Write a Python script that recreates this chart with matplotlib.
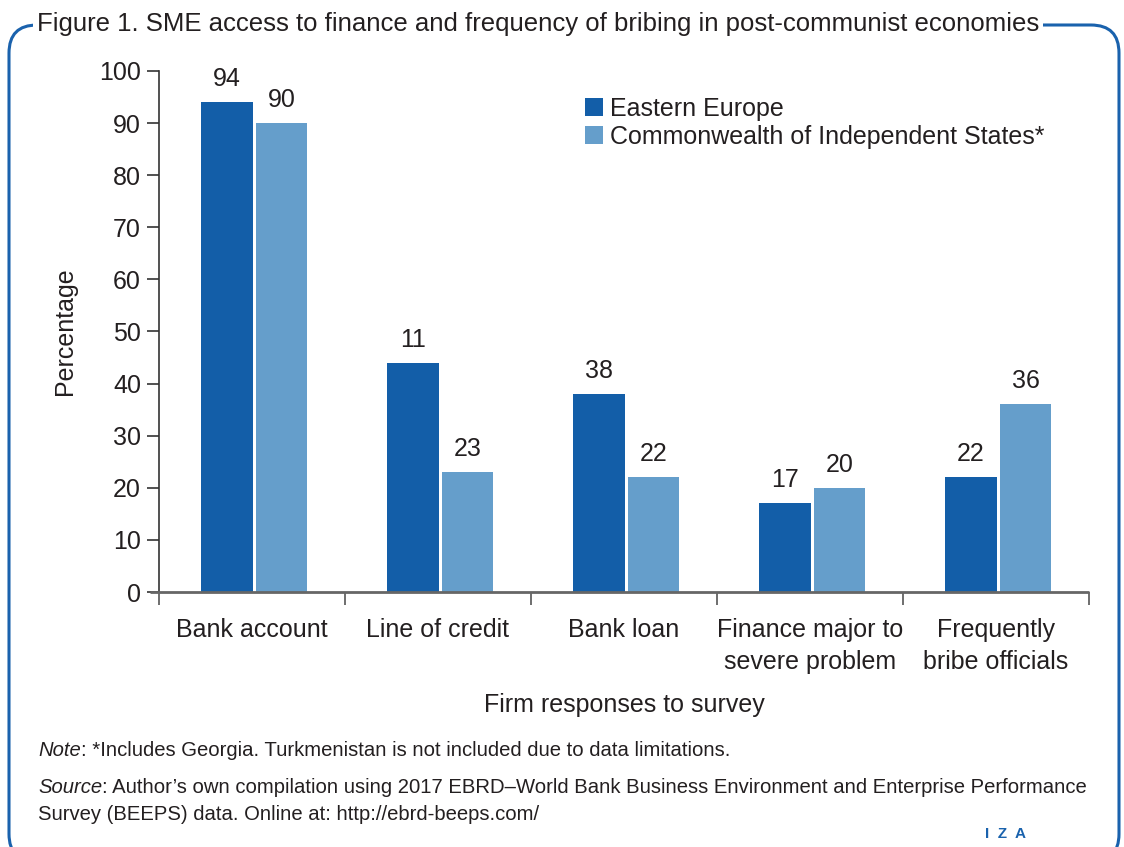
import matplotlib
matplotlib.use("Agg")
import matplotlib.pyplot as plt
from matplotlib.patches import FancyBboxPatch
import numpy as np

categories = ["Bank account", "Line of credit", "Bank loan",
              "Finance major to\nsevere problem", "Frequently\nbribe officials"]
eastern_europe = [94, 44, 38, 17, 22]
eastern_europe_labels = ["94", "11", "38", "17", "22"]
cis = [90, 23, 22, 20, 36]
cis_labels = ["90", "23", "22", "20", "36"]
series_names = ["Eastern Europe", "Commonwealth of Independent States*"]
yticks = [0, 10, 20, 30, 40, 50, 60, 70, 80, 90, 100]

W, H = 1124, 847
plt.rcParams['font.family'] = ['Liberation Sans', 'DejaVu Sans']
fig = plt.figure(figsize=(W / 100, H / 100), dpi=100)

def fx(px):
    return px / W

def fy(py):
    return 1 - py / H

c_ee = "#135ea8"
c_cis = "#659ecb"
c_border = "#1a62ad"
c_text = "#231f20"

# Border
border = FancyBboxPatch((fx(9), fy(862)), fx(1119) - fx(9), fy(25) - fy(862),
                        boxstyle="round,pad=0,rounding_size=0.025",
                        transform=fig.transFigure, fill=False,
                        edgecolor=c_border, linewidth=2.2, mutation_aspect=W / H)
fig.patches.append(border)
fig.text(fx(37), fy(24), "Figure 1. SME access to finance and frequency of bribing in post-communist economies",
         family=['Liberation Sans Narrow', 'Liberation Sans'], fontsize=18.5, color=c_text,
         va='center', ha='left',
         bbox=dict(facecolor='white', edgecolor='none', pad=3))

ax = fig.add_axes([fx(159), fy(592), fx(1089) - fx(159), fy(71) - fy(592)])
x = np.arange(len(categories))
bw = 0.275
gap = 0.009
shift = 0.012
b1 = ax.bar(x - bw / 2 - gap + shift, eastern_europe, bw, color=c_ee, label=series_names[0])
b2 = ax.bar(x + bw / 2 + gap + shift, cis, bw, color=c_cis, label=series_names[1])
for rect, lab in zip(b1, eastern_europe_labels):
    ax.annotate(lab, (rect.get_x() + rect.get_width() / 2, rect.get_height()),
                xytext=(0, 8), textcoords='offset points', ha='center', va='bottom',
                fontsize=18, color=c_text)
for rect, lab in zip(b2, cis_labels):
    ax.annotate(lab, (rect.get_x() + rect.get_width() / 2, rect.get_height()),
                xytext=(0, 8), textcoords='offset points', ha='center', va='bottom',
                fontsize=18, color=c_text)

ax.set_xlim(-0.5, len(categories) - 0.5)
ax.set_ylim(0, 100)
ax.set_yticks(yticks)
ax.set_yticklabels([str(v) for v in yticks], fontsize=18, color=c_text)
ax.set_xticks(np.arange(len(categories) + 1) - 0.5)
ax.set_xticklabels([])
ax.set_xticks(x, minor=True)
ax.set_xticklabels(categories, minor=True, fontsize=18, color=c_text, linespacing=1.4)
ax.tick_params(axis='x', which='minor', length=0, pad=19)
ax.tick_params(axis='x', which='major', length=9, width=1.2, color='#555555', direction='out')
ax.tick_params(axis='y', length=9, width=1.2, color='#333333', pad=4)
for s in ['top', 'right']:
    ax.spines[s].set_visible(False)
ax.spines['left'].set_color('#333333')
ax.spines['left'].set_linewidth(1.2)
ax.spines['bottom'].set_visible(False)
ax.plot([-0.55, len(categories) - 0.5], [0, 0], color='#666666', lw=2, clip_on=False,
        solid_capstyle='butt', zorder=3)
ax.set_ylabel("Percentage", fontsize=18, color=c_text, labelpad=16)
ax.set_xlabel("Firm responses to survey", fontsize=18, color=c_text, labelpad=14)

leg = ax.legend(loc='upper left', bbox_to_anchor=(fx(585), fy(97)), bbox_transform=fig.transFigure,
                frameon=False, fontsize=18, handlelength=0.7, handleheight=0.7,
                handletextpad=0.3, labelspacing=0.15, borderpad=0, borderaxespad=0)
for t in leg.get_texts():
    t.set_color(c_text)

# Footer with italic lead words
fs_foot = 14.6
note_it = fig.text(fx(38), fy(750), "Note", fontsize=fs_foot, color=c_text, va='center', style='italic')
fig.add_artist(plt.Annotation(": *Includes Georgia. Turkmenistan is not included due to data limitations.",
                              xy=(1, 0), xycoords=note_it, va='bottom', ha='left',
                              fontsize=fs_foot, color=c_text))
src_it = fig.text(fx(38), fy(787), "Source", fontsize=fs_foot, color=c_text, va='center', style='italic')
fig.add_artist(plt.Annotation(": Author\u2019s own compilation using 2017 EBRD\u2013World Bank Business Environment and Enterprise Performance",
                              xy=(1, 0), xycoords=src_it, va='bottom', ha='left',
                              fontsize=fs_foot, color=c_text))
fig.text(fx(38), fy(814), "Survey (BEEPS) data. Online at: http://ebrd-beeps.com/",
         fontsize=fs_foot, color=c_text, va='center')
fig.text(fx(985), fy(834), "I  Z  A", fontsize=11, color=c_border, va='center', weight='bold')

fig.savefig("out.png", dpi=100)
